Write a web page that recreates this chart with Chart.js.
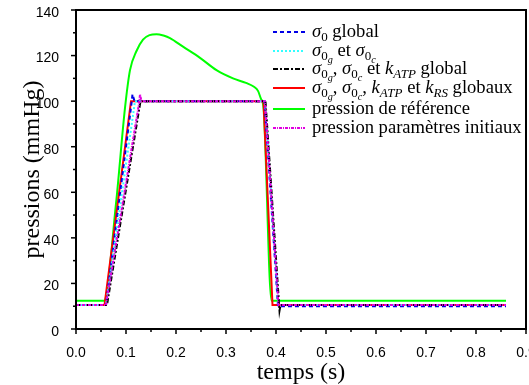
<!DOCTYPE html>
<html>
<head>
<meta charset="utf-8">
<script src="https://cdn.jsdelivr.net/npm/chart.js@4"></script>
<style>
  html, body { margin: 0; padding: 0; background: #fff; }
  #wrap { width: 529px; height: 385px; }
</style>
</head>
<body>
<div id="wrap"><canvas id="c" width="529" height="385"></canvas></div>
<script>
// --- DONNEES ---
const tSigma0 = [0, 0.060, 0.111, 0.113, 0.117, 0.377, 0.404, 0.86];
const pSigma0 = [10.5, 10.5, 99, 103, 100, 100, 10, 10];

const tSigma0gc = [0, 0.060, 0.118, 0.378, 0.405, 0.86];
const pSigma0gc = [10.5, 10.5, 100, 100, 10.5, 10.5];

const tKatp = [0, 0.062, 0.129, 0.379, 0.407, 0.409, 0.86];
const pKatp = [10.5, 10.5, 100, 100, 8, 10.5, 10.5];

const tKrs = [0, 0.057, 0.110, 0.375, 0.393, 0.86];
const pKrs = [10.5, 10.5, 100, 100, 10.5, 10.5];

const tRef = [0, 0.056, 0.080, 0.098, 0.108, 0.121, 0.134, 0.147, 0.161, 0.175, 0.188, 0.214, 0.248, 0.281, 0.314, 0.340, 0.356, 0.364, 0.370, 0.375, 0.391, 0.86];
const pRef = [12.4, 12.4, 55, 97, 113.6, 122, 127, 129, 129.4, 128.8, 127.7, 123.9, 119, 113.6, 110, 108, 106.3, 104.5, 101, 97, 12.4, 12.4];

const tInit = [0, 0.060, 0.126, 0.128, 0.131, 0.378, 0.405, 0.86];
const pInit = [10.5, 10.5, 99, 103, 100, 100, 10.5, 10.5];

const xTicks = [0, 0.1, 0.2, 0.3, 0.4, 0.5, 0.6, 0.7, 0.8, 0.9];
const yTicks = [0, 20, 40, 60, 80, 100, 120, 140];

// legende : [texte, niveau (0 normal, 1 indice, 2 sous-indice), italique]
const legendLabels = [
    [['σ', 0, 1], ['0', 1, 0], [' global', 0, 0]],
    [['σ', 0, 1], ['0', 1, 0], ['g', 2, 1], [' et ', 0, 0], ['σ', 0, 1], ['0', 1, 0], ['c', 2, 1]],
    [['σ', 0, 1], ['0', 1, 0], ['g', 2, 1], [', ', 0, 0], ['σ', 0, 1], ['0', 1, 0], ['c', 2, 1], [' et ', 0, 0], ['k', 0, 1], ['ATP', 1, 1], [' global', 0, 0]],
    [['σ', 0, 1], ['0', 1, 0], ['g', 2, 1], [', ', 0, 0], ['σ', 0, 1], ['0', 1, 0], ['c', 2, 1], [', ', 0, 0], ['k', 0, 1], ['ATP', 1, 1], [' et ', 0, 0], ['k', 0, 1], ['RS', 1, 1], [' globaux', 0, 0]],
    [['pression de référence', 0, 0]],
    [['pression paramètres initiaux', 0, 0]]
];

function pts(t, p) {
    return t.map((x, i) => ({ x: x, y: p[i] }));
}

const series = [
    { data: pts(tSigma0, pSigma0), color: '#0000e6', dash: [4, 3], order: 3 },
    { data: pts(tSigma0gc, pSigma0gc), color: '#33ffff', dash: [2, 2], order: 2 },
    { data: pts(tKatp, pKatp), color: '#000000', dash: [5, 2, 2, 2], order: 1 },
    { data: pts(tKrs, pKrs), color: '#ff0000', dash: [], order: 4 },
    { data: pts(tRef, pRef), color: '#00ff00', dash: [], order: 5, smooth: true },
    { data: pts(tInit, pInit), color: '#e000e0', dash: [3, 1, 1, 1], order: 0 }
];

// --- cadre, graduations, legende ---
const decorPlugin = {
    id: 'decor',
    afterDatasetsDraw(chart) {
        const ctx = chart.ctx;
        const a = chart.chartArea;
        const xs = chart.scales.x, ys = chart.scales.y;
        ctx.save();
        ctx.strokeStyle = '#000';
        ctx.lineWidth = 1.5;
        ctx.setLineDash([]);
        // graduations
        for (let v = 0; v <= 140.001; v += 10) {
            const y = ys.getPixelForValue(v);
            const len = (Math.round(v) % 20 === 0) ? 5 : 3;
            ctx.beginPath(); ctx.moveTo(a.left - len, y); ctx.lineTo(a.left, y); ctx.stroke();
        }
        for (let i = 0; i <= 18; i++) {
            const x = xs.getPixelForValue(i * 0.05);
            const len = (i % 2 === 0) ? 5 : 3;
            ctx.beginPath(); ctx.moveTo(x, a.bottom); ctx.lineTo(x, a.bottom + len); ctx.stroke();
        }
        ctx.lineWidth = 2;
        ctx.strokeRect(a.left, a.top, a.right - a.left, a.bottom - a.top);

        // legende
        const rowsY = [32, 51, 69, 88, 109, 128];
        const size = 18.6;
        ctx.textBaseline = 'alphabetic';
        ctx.fillStyle = '#000';
        legendLabels.forEach((segs, i) => {
            const s = series[i];
            const y = rowsY[i];
            ctx.strokeStyle = s.color;
            ctx.lineWidth = 2;
            ctx.setLineDash(s.dash);
            ctx.beginPath(); ctx.moveTo(273, y); ctx.lineTo(305, y); ctx.stroke();
            ctx.setLineDash([]);
            let x = 312;
            segs.forEach(([txt, lvl, it]) => {
                const fs = lvl === 0 ? size : (lvl === 1 ? size * 0.7 : size * 0.55);
                const dy = lvl === 0 ? 0 : (lvl === 1 ? size * 0.22 : size * 0.38);
                ctx.font = (it ? 'italic ' : '') + fs + 'px "Liberation Serif"';
                ctx.fillText(txt, x, y + 5 + dy);
                x += ctx.measureText(txt).width;
            });
        });
        ctx.restore();
    }
};

const ctx = document.getElementById('c').getContext('2d');
const chart = new Chart(ctx, {
    type: 'line',
    data: {
        datasets: series.map(s => ({
            data: s.data,
            borderColor: s.color,
            borderDash: s.dash,
            borderWidth: 2,
            pointRadius: 0,
            tension: 0,
            cubicInterpolationMode: s.smooth ? 'monotone' : 'default',
            fill: false,
            order: s.order
        }))
    },
    options: {
        responsive: false,
        animation: false,
        layout: { autoPadding: false, padding: { top: 10, right: 3, left: 0, bottom: 0 } },
        plugins: { legend: { display: false }, tooltip: { enabled: false } },
        scales: {
            x: {
                type: 'linear',
                min: 0, max: 0.9,
                afterBuildTicks: (scale) => { scale.ticks = xTicks.map(v => ({ value: v })); },
                afterFit: (scale) => {
                    scale.height = 56;
                    scale.paddingLeft = 0;
                    scale.paddingRight = 0;
                },
                grid: { display: false },
                border: { display: false },
                ticks: {
                    color: '#000',
                    padding: 8,
                    maxRotation: 0,
                    autoSkip: false,
                    font: { family: '"Liberation Sans"', size: 14 },
                    callback: (v) => v.toFixed(1)
                },
                title: {
                    display: true,
                    text: 'temps (s)',
                    color: '#000',
                    padding: { top: 0, bottom: 0 },
                    font: { family: '"Liberation Serif"', size: 24, lineHeight: 1.0 }
                }
            },
            y: {
                type: 'linear',
                min: 0, max: 140,
                afterBuildTicks: (scale) => { scale.ticks = yTicks.map(v => ({ value: v })); },
                afterFit: (scale) => {
                    scale.width = 76;
                    scale.paddingTop = 0;
                    scale.paddingBottom = 0;
                },
                grid: { display: false },
                border: { display: false },
                ticks: {
                    color: '#000',
                    padding: 9,
                    labelOffset: 3,
                    autoSkip: false,
                    font: { family: '"Liberation Sans"', size: 14 }
                },
                title: {
                    display: true,
                    text: 'pressions (mmHg)',
                    color: '#000',
                    padding: { top: 21, bottom: 0 },
                    font: { family: '"Liberation Serif"', size: 24, lineHeight: 1.0 }
                }
            }
        }
    },
    plugins: [decorPlugin]
});
</script>
</body>
</html>
